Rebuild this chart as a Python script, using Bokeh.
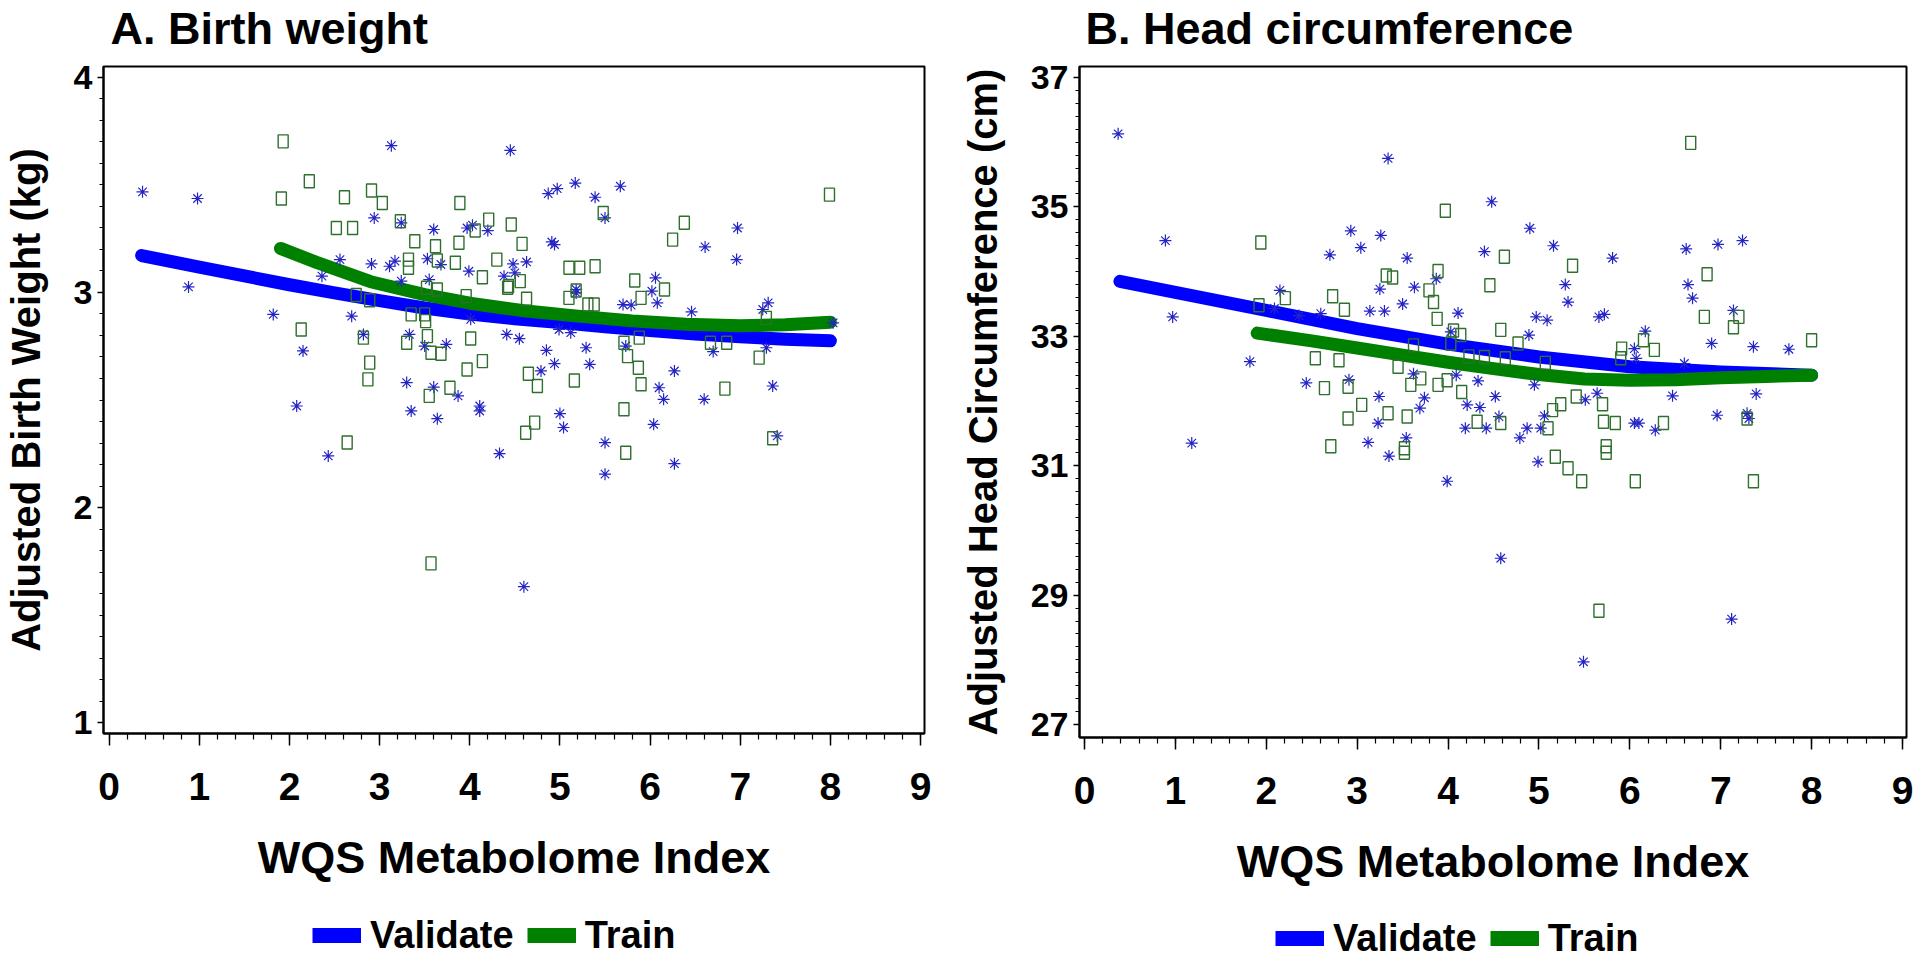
from bokeh.plotting import figure
from bokeh.models import Range1d, FixedTicker, Legend, LegendItem, Title
from bokeh.layouts import row, column
from bokeh.embed import file_html
from bokeh.resources import INLINE

# ---------------- shared axis values ----------------
x_ticks = [0, 1, 2, 3, 4, 5, 6, 7, 8, 9]
a_yticks = [1, 2, 3, 4]
b_yticks = [27, 29, 31, 33, 35, 37]
legend_labels = ["Validate", "Train"]

# ---------------- Panel A: Birth weight ----------------
a_val_curve_x = [0.36, 1.0, 1.5, 2.0, 2.5, 3.0, 3.5, 4.0, 4.5, 5.0, 5.5, 6.0, 6.5, 7.0, 7.5, 8.0]
a_val_curve_y = [3.172, 3.118, 3.077, 3.036, 2.998, 2.962, 2.928, 2.900, 2.878, 2.860, 2.840, 2.823, 2.807, 2.794, 2.783, 2.775]
a_trn_curve_x = [1.9, 2.3, 2.9, 3.5, 4.0, 4.6, 5.2, 5.8, 6.4, 7.0, 7.5, 8.0]
a_trn_curve_y = [3.205, 3.14, 3.05, 2.99, 2.95, 2.915, 2.89, 2.868, 2.852, 2.845, 2.850, 2.862]

a_val_x = [0.37, 0.98, 0.88, 1.82, 2.15, 2.08, 2.43, 3.13, 4.45, 2.94, 3.24, 3.60, 4.03, 4.20,
           2.56, 2.91, 3.11, 3.17, 3.53, 3.68, 3.99, 4.48, 4.63, 4.38, 4.50, 2.36, 2.69, 3.24,
           3.55, 2.82, 3.33, 3.50, 3.74, 3.30, 3.60, 3.87, 3.35, 3.64, 4.11, 4.11, 4.33, 4.01,
           4.41, 4.55, 4.85, 4.79, 4.94, 4.99, 5.12, 5.29, 5.33, 5.00, 5.04, 5.50, 5.50, 4.87,
           4.97, 5.17, 5.39, 5.67, 5.50, 4.91, 4.94, 5.18, 5.18, 5.70, 5.79, 6.06, 6.02, 6.08,
           6.46, 5.73, 6.10, 6.15, 6.27, 6.04, 6.27, 6.61, 6.97, 6.96, 6.60, 6.70, 7.25, 7.31,
           7.29, 7.36, 7.41, 8.03, 3.97, 4.60]
a_val_y = [3.468, 3.437, 3.026, 2.898, 2.728, 2.472, 2.240, 3.683, 3.661, 3.347, 3.324, 3.293, 3.313, 3.288,
           3.153, 3.133, 3.122, 3.146, 3.157, 3.130, 3.099, 3.133, 3.142, 3.076, 3.091, 3.076, 2.890, 3.053,
           3.060, 2.805, 2.805, 2.751, 2.759, 2.581, 2.560, 2.519, 2.449, 2.413, 2.472, 2.449, 2.251, 2.875,
           2.805, 2.785, 2.731, 2.635, 2.669, 2.828, 2.813, 2.743, 2.666, 2.437, 2.372, 2.302, 2.155, 3.460,
           3.483, 3.509, 3.443, 3.494, 3.347, 3.235, 3.223, 3.014, 2.998, 2.944, 2.941, 3.068, 3.006, 2.952,
           2.910, 2.751, 2.557, 2.503, 2.635, 2.387, 2.204, 3.212, 3.300, 3.153, 2.503, 2.725, 2.921, 2.952,
           2.743, 2.565, 2.333, 2.859, 3.300, 1.632]

a_trn_x = [1.93, 1.91, 2.22, 2.61, 2.91, 3.03, 2.52, 2.70, 3.23, 3.89, 4.21, 4.46, 4.06, 3.39,
           3.62, 3.88, 4.58, 5.48, 6.38, 6.25, 7.99, 3.32, 3.32, 3.64, 3.84, 4.30, 4.14, 4.43,
           4.56, 4.42, 4.63, 5.10, 5.22, 5.39, 5.18, 5.10, 5.31, 5.38, 5.83, 6.16, 5.90, 2.74,
           2.89, 3.52, 3.64, 3.96, 3.50, 3.35, 3.51, 2.13, 2.82, 2.89, 2.87, 3.30, 3.53, 4.01,
           3.57, 3.68, 4.14, 3.97, 3.78, 3.55, 4.65, 4.75, 5.16, 5.71, 5.75, 5.87, 5.90, 5.88,
           5.71, 5.73, 4.72, 4.62, 2.64, 6.67, 6.85, 6.83, 7.21, 7.29, 7.36, 3.57]
a_trn_y = [3.703, 3.437, 3.517, 3.443, 3.474, 3.416, 3.300, 3.300, 3.331, 3.416, 3.339, 3.316, 3.288, 3.238,
           3.215, 3.231, 3.226, 3.370, 3.324, 3.246, 3.455, 3.153, 3.115, 3.149, 3.138, 3.153, 3.071, 3.030,
           3.053, 3.022, 2.971, 3.115, 3.115, 3.122, 3.009, 2.975, 2.944, 2.944, 3.056, 3.014, 2.975, 2.988,
           2.964, 3.022, 3.014, 2.983, 2.898, 2.898, 2.867, 2.828, 2.790, 2.674, 2.596, 2.766, 2.797, 2.786,
           2.720, 2.715, 2.681, 2.642, 2.557, 2.519, 2.622, 2.565, 2.591, 2.766, 2.704, 2.650, 2.573, 2.790,
           2.457, 2.255, 2.395, 2.348, 2.302, 2.766, 2.766, 2.553, 2.697, 2.882, 2.322, 1.740]

# ---------------- Panel B: Head circumference ----------------
b_val_curve_x = [0.39, 1.0, 2.0, 3.0, 4.0, 5.0, 6.0, 7.0, 8.0]
b_val_curve_y = [33.85, 33.68, 33.40, 33.12, 32.88, 32.68, 32.53, 32.45, 32.40]
b_trn_curve_x = [1.9, 2.5, 3.0, 3.5, 4.0, 4.5, 5.0, 5.5, 6.0, 6.5, 7.0, 7.5, 8.0]
b_trn_curve_y = [33.05, 32.93, 32.82, 32.71, 32.60, 32.50, 32.41, 32.34, 32.32, 32.33, 32.36, 32.38, 32.40]

b_val_x = [0.37, 0.89, 0.97, 1.18, 1.82, 3.34, 4.48, 4.90, 2.93, 3.26, 3.04, 2.70, 3.55, 4.40,
           5.16, 5.81, 6.62, 6.97, 7.24, 2.15, 3.25, 3.63, 3.87, 5.29, 5.32, 6.64, 6.69, 3.50,
           3.14, 3.30, 4.11, 2.60, 2.36, 2.09, 4.97, 5.09, 5.66, 5.72, 7.14, 6.17, 6.90, 7.36,
           7.75, 4.89, 4.03, 6.05, 6.07, 2.44, 2.91, 3.62, 4.09, 4.33, 4.95, 3.24, 3.74, 3.23,
           3.69, 4.21, 4.35, 4.52, 4.56, 4.19, 4.42, 4.79, 4.87, 5.02, 5.06, 3.12, 3.35, 3.54,
           4.99, 5.51, 5.64, 6.05, 6.10, 6.28, 6.47, 7.39, 6.96, 7.29, 7.31, 6.60, 3.99, 4.58,
           5.49, 7.12]
b_val_y = [36.13, 34.48, 33.30, 31.35, 32.61, 35.75, 35.08, 34.67, 34.63, 34.56, 34.37, 34.26, 34.21, 34.31,
           34.40, 34.21, 34.35, 34.42, 34.48, 33.71, 33.73, 33.76, 33.89, 33.80, 33.53, 33.80, 33.59, 33.50,
           33.39, 33.39, 33.36, 33.35, 33.32, 33.43, 33.30, 33.25, 33.30, 33.34, 33.40, 33.08, 32.89, 32.84,
           32.80, 33.02, 33.07, 32.81, 32.66, 32.28, 32.33, 32.42, 32.40, 32.31, 32.25, 32.07, 32.05, 31.66,
           31.89, 31.94, 31.90, 32.07, 31.76, 31.58, 31.58, 31.43, 31.58, 31.58, 31.77, 31.36, 31.15, 31.43,
           31.06, 32.02, 32.12, 31.66, 31.66, 31.55, 32.08, 32.11, 31.78, 31.81, 31.73, 32.58, 30.76, 29.57,
           27.97, 28.63]

b_trn_x = [6.67, 3.97, 1.94, 4.62, 5.37, 6.85, 3.32, 3.39, 3.89, 4.46, 2.73, 2.21, 2.86, 1.92,
           3.79, 3.84, 3.88, 6.82, 7.20, 7.14, 4.58, 4.06, 4.14, 4.77, 4.03, 8.00, 5.91, 6.27,
           5.90, 6.15, 2.54, 2.80, 3.62, 4.23, 4.40, 4.63, 5.07, 3.45, 3.70, 3.59, 3.89, 3.99,
           2.64, 2.90, 4.15, 5.41, 5.24, 5.70, 3.05, 2.90, 3.34, 3.55, 4.32, 4.58, 5.10, 5.15,
           5.71, 5.84, 6.37, 7.29, 2.71, 3.52, 3.52, 5.74, 5.74, 5.18, 5.32, 5.47, 6.06, 7.36,
           5.66]
b_trn_y = [35.99, 34.94, 34.45, 34.23, 34.09, 33.96, 33.94, 33.91, 34.01, 33.79, 33.62, 33.59, 33.41, 33.48,
           33.71, 33.53, 33.27, 33.30, 33.30, 33.14, 33.10, 33.09, 33.02, 32.89, 32.89, 32.94, 32.81, 32.79,
           32.66, 32.94, 32.66, 32.63, 32.86, 32.69, 32.68, 32.66, 32.59, 32.53, 32.35, 32.25, 32.25, 32.32,
           32.20, 32.22, 32.14, 32.07, 31.95, 31.95, 31.94, 31.73, 31.81, 31.76, 31.68, 31.66, 31.58, 31.86,
           31.68, 31.66, 31.66, 31.73, 31.30, 31.27, 31.20, 31.30, 31.20, 31.14, 30.96, 30.76, 30.76, 30.76,
           28.76]

FONT = "Liberation Sans"
BLUE_LINE = "#0000ff"
GREEN_LINE = "#008000"
BLUE_MARK = "#2424c4"
GREEN_MARK = "#2f6f2f"
MAIN_H = 910
LEG_H = 50


def make_panel(title, ylabel, xr, yr, yticks, yminor, cvx, cvy, ctx, cty, svx, svy, stx, sty,
               width, bl, br, bb, toff):
    p = figure(width=width, height=MAIN_H, x_range=Range1d(*xr), y_range=Range1d(*yr),
               output_backend="svg", toolbar_location=None, title_location=None,
               min_border_left=bl, min_border_right=br, min_border_top=65, min_border_bottom=bb)
    p.background_fill_color = "white"
    p.border_fill_color = "white"
    p.outline_line_color = "black"
    p.outline_line_width = 2
    p.xgrid.visible = False
    p.ygrid.visible = False

    # small spacer (closest to the frame), then the real title above it
    p.add_layout(Title(text=" ", text_font_size="10px", standoff=0), "above")
    p.add_layout(Title(text=title, text_font=FONT, text_font_size="45px", text_font_style="bold",
                       text_color="black", align="left", offset=toff, standoff=0), "above")

    xa = p.xaxis[0]
    xa.ticker = FixedTicker(ticks=x_ticks, minor_ticks=[i * 0.2 for i in range(46)])
    xa.major_tick_out = 12
    xa.major_tick_in = 0
    xa.minor_tick_out = 6
    xa.minor_tick_in = 0
    xa.major_label_text_font_size = "39px"
    xa.major_label_standoff = 27
    xa.axis_label = "WQS Metabolome Index"
    xa.axis_label_text_font_size = "45px"
    xa.axis_label_standoff = 29

    ya = p.yaxis[0]
    ya.ticker = FixedTicker(ticks=yticks, minor_ticks=yminor)
    ya.major_tick_out = 6
    ya.major_tick_in = 0
    ya.minor_tick_out = 4
    ya.minor_tick_in = 0
    ya.major_label_text_font_size = "34px"
    ya.major_label_standoff = 5
    ya.axis_label = ylabel
    ya.axis_label_text_font_size = "40px"
    ya.axis_label_standoff = 23

    for ax in (xa, ya):
        ax.axis_line_color = "black"
        ax.axis_line_width = 2
        ax.major_tick_line_color = "black"
        ax.major_tick_line_width = 1.5
        ax.minor_tick_line_color = "black"
        ax.minor_tick_line_width = 1.2
        ax.major_label_text_font = FONT
        ax.major_label_text_font_style = "bold"
        ax.major_label_text_color = "black"
        ax.axis_label_text_font = FONT
        ax.axis_label_text_font_style = "bold"
        ax.axis_label_text_color = "black"

    p.line(cvx, cvy, line_color=BLUE_LINE, line_width=13, line_cap="round", line_join="round")
    p.line(ctx, cty, line_color=GREEN_LINE, line_width=13, line_cap="round", line_join="round")
    p.scatter(svx, svy, marker="asterisk", size=12, line_color=BLUE_MARK, line_width=1.2)
    p.rect(stx, sty, width=10, height=13, width_units="screen", height_units="screen",
           fill_color=None, line_color=GREEN_MARK, line_width=1.4)
    return p


def make_legend(width, vx, vy, cvx, cvy, ctx, cty):
    # legend strip below the plot; its frame is aligned with the plot frame above
    lf = figure(width=width, height=LEG_H, x_range=Range1d(0, 1), y_range=Range1d(0, 1),
                output_backend="svg", toolbar_location=None, min_border=0,
                x_axis_location=None, y_axis_location=None, title_location=None)
    lf.outline_line_color = None
    lf.background_fill_color = "white"
    lf.border_fill_color = "white"
    for g in lf.grid:
        g.visible = False
    # the fitted curves (they fall outside this strip's ranges, so only their legend swatch shows)
    lv = lf.line(cvx, cvy, line_color=BLUE_LINE, line_width=15, line_cap="butt")
    lt = lf.line(ctx, cty, line_color=GREEN_LINE, line_width=15, line_cap="butt")
    legend = Legend(items=[LegendItem(label=legend_labels[0], renderers=[lv]),
                           LegendItem(label=legend_labels[1], renderers=[lt])],
                    location=(vx, vy), orientation="horizontal",
                    label_text_font=FONT, label_text_font_size="38px", label_text_font_style="bold",
                    label_text_color="black",
                    glyph_width=49, glyph_height=44, label_standoff=9, spacing=13,
                    padding=0, margin=0, border_line_alpha=0, background_fill_alpha=0)
    lf.add_layout(legend, "center")
    return lf


pA = make_panel("A. Birth weight", "Adjusted Birth Weight (kg)", (-0.063, 9.044), (0.949, 4.051),
                a_yticks, [1 + 0.1 * i for i in range(31)],
                a_val_curve_x, a_val_curve_y, a_trn_curve_x, a_trn_curve_y,
                a_val_x, a_val_y, a_trn_x, a_trn_y,
                width=955, bl=100, br=31, bb=MAIN_H - 733, toff=7)

pB = make_panel("B. Head circumference", "Adjusted Head Circumference (cm)", (-0.055, 9.044), (26.8, 37.17),
                b_yticks, [27 + 0.2 * i for i in range(51)],
                b_val_curve_x, b_val_curve_y, b_trn_curve_x, b_trn_curve_y,
                b_val_x, b_val_y, b_trn_x, b_trn_y,
                width=965, bl=124, br=14, bb=MAIN_H - 737, toff=6)

lA = make_legend(955, 209, 3, a_val_curve_x, a_val_curve_y, a_trn_curve_x, a_trn_curve_y)
lB = make_legend(965, 196, 0, b_val_curve_x, b_val_curve_y, b_trn_curve_x, b_trn_curve_y)

layout = row(column(pA, lA), column(pB, lB))
open("out.html", "w").write(file_html(layout, INLINE))
